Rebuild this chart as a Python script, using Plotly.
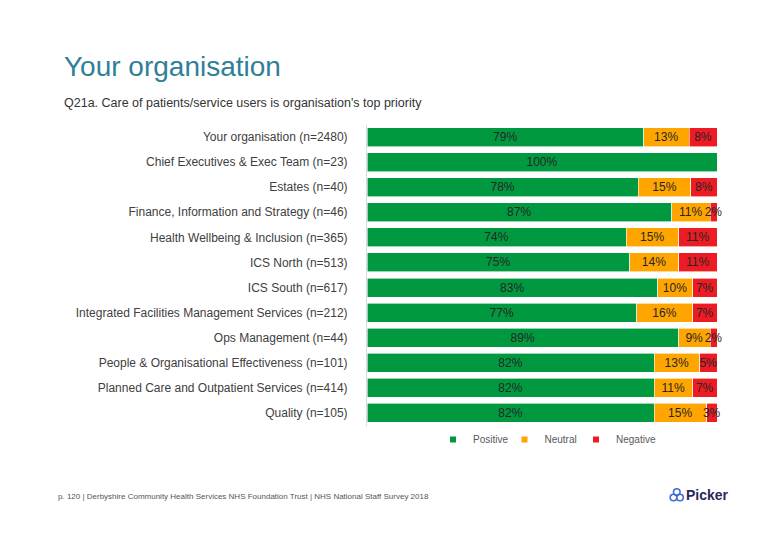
import plotly.graph_objects as go

categories = [
    "Your organisation (n=2480)",
    "Chief Executives & Exec Team (n=23)",
    "Estates (n=40)",
    "Finance, Information and Strategy (n=46)",
    "Health Wellbeing & Inclusion (n=365)",
    "ICS North (n=513)",
    "ICS South (n=617)",
    "Integrated Facilities Management Services (n=212)",
    "Ops Management (n=44)",
    "People & Organisational Effectiveness (n=101)",
    "Planned Care and Outpatient Services (n=414)",
    "Quality (n=105)",
]
positive = [79, 100, 77.5, 87, 74, 75, 83, 77, 89, 82, 82, 82]
neutral = [13, 0, 15, 11, 15, 14, 10, 16, 9, 13, 11, 15]
negative = [8, 0, 7.5, 2, 11, 11, 7, 7, 2, 5, 7, 3]

series = [
    ("Positive", positive, "#00993f"),
    ("Neutral", neutral, "#ffa500"),
    ("Negative", negative, "#ed1c24"),
]

# page is drawn with an 8px body margin, so figure pixels = screen pixels - 8
W, H = 764, 524
OFF = 8


def px(x):
    return (x - OFF) / W


def py(y):
    return 1 - (y - OFF) / H


FONT = "Liberation Sans, Arial"
fig = go.Figure()
for name, vals, col in series:
    fig.add_trace(go.Bar(
        y=categories, x=vals, name=name, orientation="h",
        marker=dict(color=col, line=dict(color="#ffffff", width=0.6)),
        text=[f"{v:.0f}%" if v > 0 else "" for v in vals],
        textposition="inside", insidetextanchor="middle", textangle=0,
        textfont=dict(size=12, color="#262626", family=FONT),
        constraintext="none", cliponaxis=False,
        hoverinfo="skip", showlegend=False,
    ))
for name, vals, col in series:
    fig.add_trace(go.Scatter(
        x=[None], y=[None], mode="markers", name=name,
        marker=dict(symbol="square", size=6, color=col),
        showlegend=True, hoverinfo="skip",
    ))
# spacer entry so the last legend label is not clipped
fig.add_trace(go.Scatter(
    x=[None], y=[None], mode="markers", name=" ",
    marker=dict(symbol="square", size=6, color="rgba(0,0,0,0)"),
    showlegend=True, hoverinfo="skip",
))

fig.update_layout(
    barmode="stack",
    width=W, height=H,
    margin=dict(l=0, r=0, t=0, b=0),
    paper_bgcolor="white", plot_bgcolor="white",
    font=dict(family=FONT, color="#404040"),
    bargap=0.24,
    uniformtext=dict(minsize=12, mode="show"),
    xaxis=dict(domain=[px(367), px(717)], range=[0, 100], visible=False, fixedrange=True),
    yaxis=dict(domain=[py(425.5), py(124.5)], autorange="reversed", automargin=False,
               showline=True, linecolor="#d9d9d9", linewidth=1,
               ticks="", ticklabelstandoff=16, showgrid=False, fixedrange=True,
               tickfont=dict(size=12, color="#404040")),
    legend=dict(orientation="h", x=px(433), y=py(425), xanchor="left", yanchor="top",
                font=dict(size=10, color="#595959"), itemwidth=30,
                entrywidth=26.5, entrywidthmode="pixels", traceorder="normal",
                bgcolor="rgba(0,0,0,0)"),
    showlegend=True,
)

fig.add_annotation(xref="paper", yref="paper", x=px(62), y=py(66.5), xanchor="left", yanchor="middle",
                   text="Your organisation", showarrow=False,
                   font=dict(size=28, color="#2f7f98", family=FONT))
fig.add_annotation(xref="paper", yref="paper", x=px(62), y=py(103), xanchor="left", yanchor="middle",
                   text="Q21a. Care of patients/service users is organisation's top priority", showarrow=False,
                   font=dict(size=12.5, color="#333333", family=FONT))
fig.add_annotation(xref="paper", yref="paper", x=px(56), y=py(496), xanchor="left", yanchor="middle",
                   text="p. 120 | Derbyshire Community Health Services NHS Foundation Trust | NHS National Staff Survey 2018",
                   showarrow=False,
                   font=dict(size=8, color="#555555", family=FONT))
# Picker logo
fig.add_annotation(xref="paper", yref="paper", x=px(684), y=py(495), xanchor="left", yanchor="middle",
                   text="<b>Picker</b>", showarrow=False,
                   font=dict(size=14, color="#2c2758", family=FONT))
for cx, cy in [(673.5, 497.5), (680, 497.5), (676.8, 492)]:
    fig.add_shape(type="circle", xref="paper", yref="paper",
                  x0=px(cx - 3.3), x1=px(cx + 3.3), y0=py(cy + 3.3), y1=py(cy - 3.3),
                  line=dict(color="#3d6fd6", width=1.6))

fig.write_html("out.html")
